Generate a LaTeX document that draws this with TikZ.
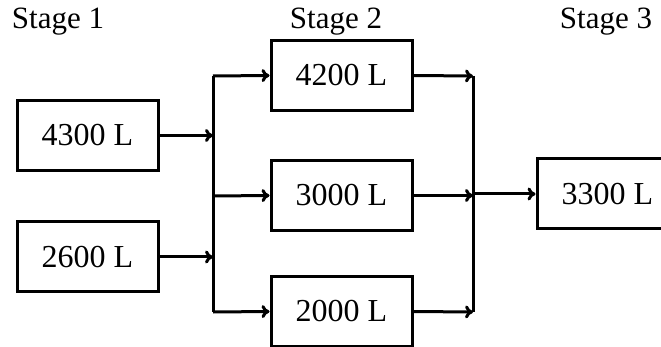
\documentclass[tikz,border=0pt]{standalone}
\usepackage{fontspec}
\setmainfont{Liberation Serif}
\usetikzlibrary{arrows.meta}
\begin{document}
\begin{tikzpicture}[x=1pt,y=-1pt,
  tank/.style={draw,line width=3pt,minimum width=141pt,minimum height=70pt,inner sep=0pt,font=\fontsize{32}{38}\selectfont},
  stagelbl/.style={font=\fontsize{31}{37}\selectfont,anchor=base},
  flow/.style={line width=3pt,-{To[length=8pt,width=13pt]}},
  bus/.style={line width=3pt}]
\useasboundingbox (0,0) rectangle (661,347);
\node[stagelbl] (s1) at (58,29) {Stage 1};
\node[stagelbl] (s2) at (336,29) {Stage 2};
\node[stagelbl] (s3) at (606,29) {Stage 3};
\node[tank] (a) at (87.5,135.5) {4300 L};
\node[tank] (b) at (87.5,257) {2600 L};
\node[tank] (c) at (341.5,75.5) {4200 L};
\node[tank] (d) at (341.5,195.5) {3000 L};
\node[tank] (e) at (341.5,311.5) {2000 L};
\node[tank] (f) at (607.5,194) {3300 L};
\coordinate (jt) at (213,76);
\coordinate (ja) at (213,135.5);
\coordinate (jm) at (213,196);
\coordinate (jb) at (213,257);
\coordinate (jl) at (213,312);
\coordinate (kt) at (473,76);
\coordinate (km) at (473,194);
\coordinate (kl) at (473,312);
\draw[bus] (jt) -- (jl);
\draw[bus] (kt) -- (kl);
\draw[flow] (a.east) -- (ja);
\draw[flow] (b.east) -- (jb);
\draw[flow] (jt) -- (c.west);
\draw[flow] (jm) -- (d.west);
\draw[flow] (jl) -- (e.west);
\draw[flow] (c.east) -- (kt);
\draw[flow] (d.east) -- (d.east -| kt);
\draw[flow] (e.east) -- (kl);
\draw[flow] (km) -- (f.west);
\end{tikzpicture}
\end{document}
